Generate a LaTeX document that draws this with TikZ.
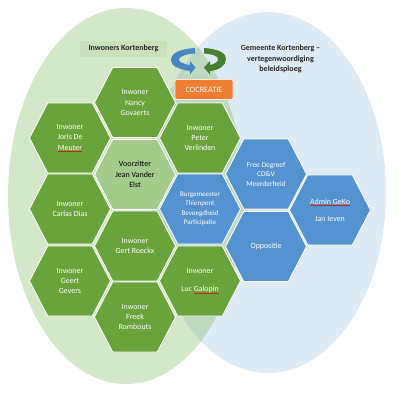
\documentclass[tikz,border=0pt]{standalone}
\usepackage{fontspec}
\setmainfont{Carlito}
\usepackage{xcolor}
\usetikzlibrary{shapes.symbols}
\definecolor{greenZone}{HTML}{D5E7C9}
\definecolor{blueZone}{HTML}{DEEAF4}
\definecolor{bothZone}{HTML}{BDD9C2}
\definecolor{titleZone}{HTML}{C9E0BA}
\definecolor{greenHex}{HTML}{6AA23C}
\definecolor{chairHex}{HTML}{A3CB8B}
\definecolor{blueHex}{HTML}{5593D0}
\definecolor{blueArrow}{HTML}{4A86BE}
\definecolor{greenArrow}{HTML}{457F2F}
\definecolor{orangeBox}{HTML}{ED7D31}
\definecolor{orangeEdge}{HTML}{FBE5D6}
\definecolor{spellRed}{HTML}{D02010}
\newcommand{\spell}[1]{\setbox0\hbox{#1}\leavevmode\rlap{\textcolor{spellRed}{\rule[-1.8pt]{\wd0}{0.9pt}}}\box0}

\begin{document}
\begin{tikzpicture}[
  x=1pt, y=-1pt,
  hexa/.style={signal, signal to=east and west, signal pointer angle=125, draw=white, line width=0.8pt,
    minimum width=81pt, minimum height=70pt, inner sep=0pt, align=center, text=white, font=\fontsize{7.9}{10.4}\selectfont},
  inwoner/.style={hexa, fill=greenHex},
  bestuur/.style={hexa, fill=blueHex},
  title/.style={align=center, inner sep=0pt, font=\fontsize{8}{10.8}\selectfont\bfseries, text=black!85}
]
\useasboundingbox (0,0) rectangle (400,402);

% zones
\fill[greenZone] (126,196) ellipse [x radius=118, y radius=188];
\fill[blueZone] (268,192.5) ellipse [x radius=118, y radius=180.5];
\begin{scope}
  \clip (126,196) ellipse [x radius=118, y radius=188];
  \fill[bothZone] (268,192.5) ellipse [x radius=118, y radius=180.5];
\end{scope}

% titles
\node[fill=titleZone, minimum width=87pt, minimum height=16pt, title] (inwoners) at (123.5,48.5) {Inwoners Kortenberg};
\node[title] (gemeente) at (280.5,59) {Gemeente Kortenberg --\\vertegenwoordiging\\beleidsploeg};
\node[fill=orangeBox, draw=orangeEdge, line width=0.8pt, rounded corners=1.5pt, minimum width=58pt, minimum height=20pt,
  inner sep=0pt, text=white, font=\fontsize{8.2}{9}\selectfont] (cocreatie) at (204,89.5) {COCREATIE};

% cycle arrows
\fill[blueArrow] (195,48) .. controls (180,49) and (171,53) .. (171,60) .. controls (171,66) and (178,69) .. (190,71)
  -- (190,74.5) -- (195.5,67.5) -- (190,61) -- (190,65) .. controls (182,64) and (178,61) .. (179,59) .. controls (180,56) and (187,54) .. (195,53.5) -- cycle;
\fill[greenArrow] (204,48) .. controls (219,49) and (226,53) .. (226,59) .. controls (226,66) and (219,70) .. (210,71)
  -- (210,74.5) -- (204,67.5) -- (210,61) -- (210,65) .. controls (215,64) and (218,62) .. (218,59) .. controls (218,56) and (212,54) .. (204,53.5) -- cycle;

% hexagons
\node[inwoner] (nancy) at (135,102.5) {Inwoner\\Nancy\\Govaerts};
\node[inwoner] (joris) at (70,138) {Inwoner\\Joris De\\\spell{Meuter}};
\node[inwoner] (peter) at (200,138) {Inwoner\\Peter\\Verlinden};
\node[inwoner, fill=chairHex, text=black, font=\fontsize{8}{10.6}\selectfont] (voorzitter) at (135,174.5) {Voorzitter\\Jean Vander\\Elst};
\node[inwoner] (carlas) at (70,209) {Inwoner\\Carlas Dias};
\node[inwoner] (gert) at (135,246) {Inwoner\\Gert Roeckx};
\node[inwoner] (geert) at (70,281) {Inwoner\\Geert\\Gevers};
\node[inwoner] (freek) at (135,317) {Inwoner\\Freek\\Rombouts};
\node[inwoner] (luc) at (200,281) {Inwoner\\[8pt]Luc \spell{Galopin}};
\node[bestuur, font=\fontsize{7}{9.4}\selectfont] (burgemeester) at (200,209) {Burgemeester\\Thienpont\\Bevoegdheid\\Participatie};
\node[bestuur, font=\fontsize{7.4}{9.5}\selectfont] (degreef) at (266,174) {Free Degreef\\CD\&V\\Meerderheid};
\node[bestuur] (oppositie) at (266,246.5) {Oppositie};
\node[bestuur] (admin) at (330,210) {\spell{Admin GeKo}\\[7pt]Jan Ieven};
\end{tikzpicture}
\end{document}
